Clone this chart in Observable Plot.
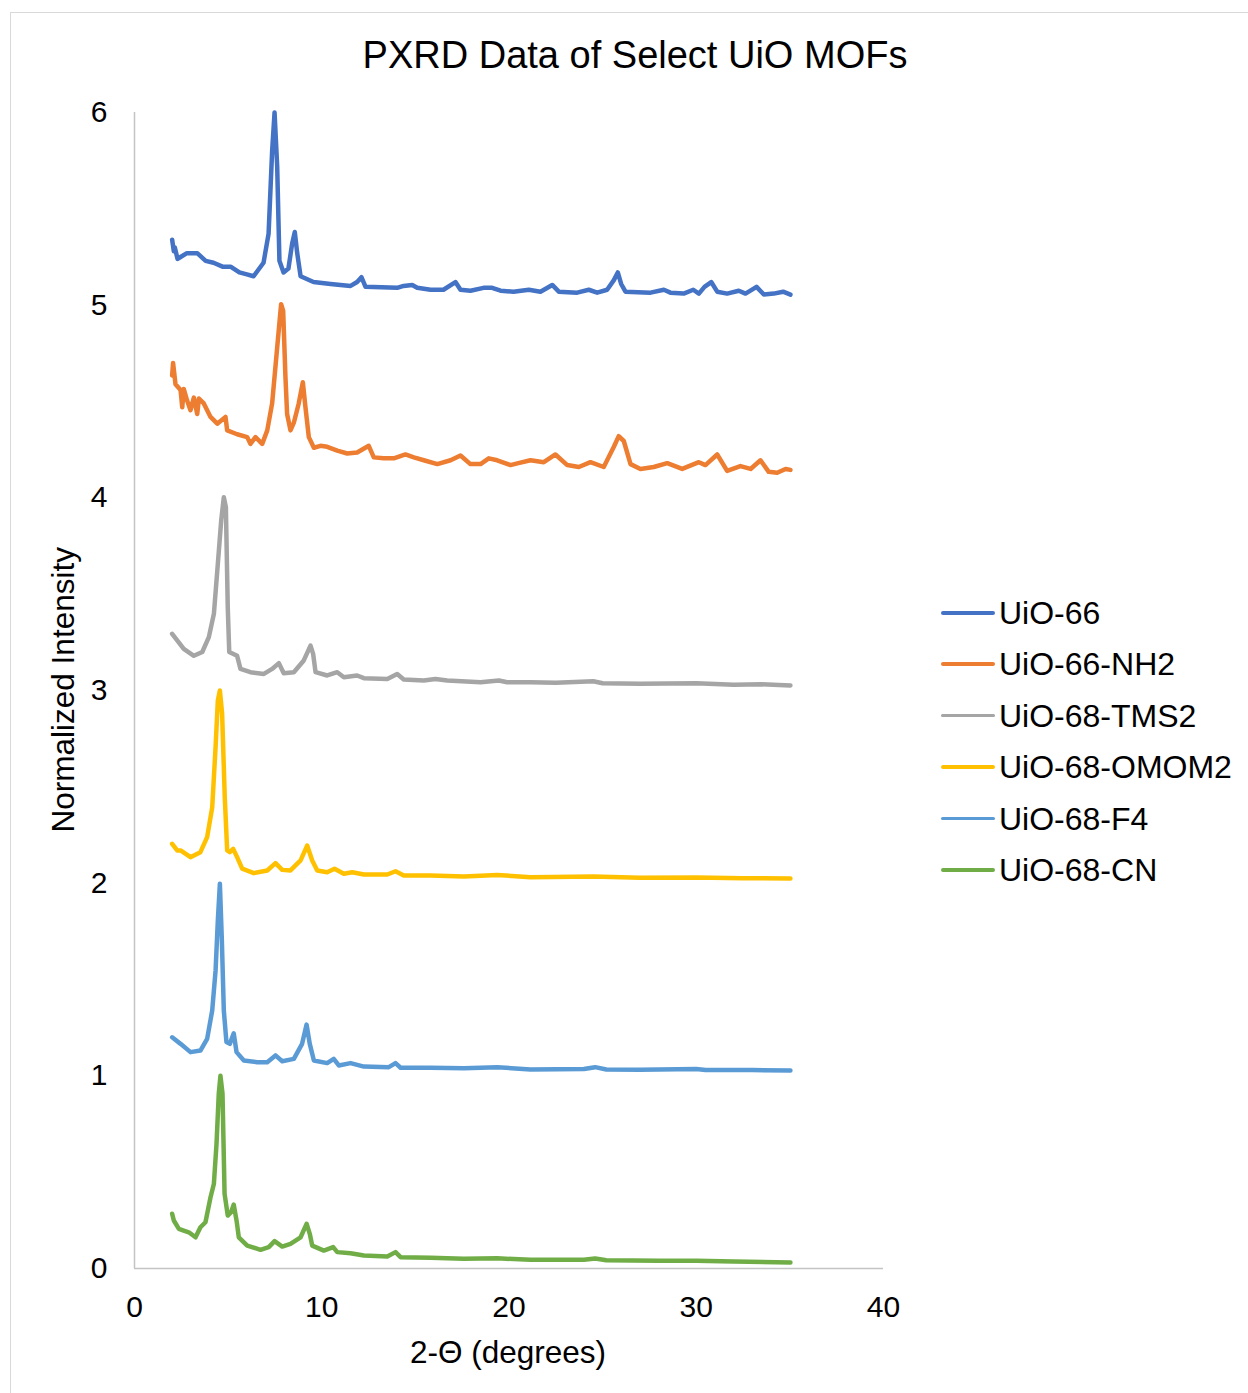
<!DOCTYPE html>
<html>
<head>
<meta charset="utf-8">
<script src="https://cdn.jsdelivr.net/npm/d3@7"></script>
<script src="https://cdn.jsdelivr.net/npm/@observablehq/plot@0.6"></script>
<style>
  html, body { margin: 0; padding: 0; background: #fff; overflow: hidden; }
  #wrap { position: relative; width: 1248px; height: 1393px; font-family: "Liberation Sans", Arial, sans-serif; color: #000; }
  #frame { position: absolute; left: 10px; top: 12px; width: 1400px; height: 1500px; border: 1.5px solid #d9d9d9; box-sizing: border-box; }
  #plot { position: absolute; left: 0; top: 0; }
  .txt { position: absolute; line-height: 1; white-space: nowrap; }
  #title { left: 335px; width: 600px; top: 36px; font-size: 38px; text-align: center; }
  #xlabel { left: 308px; width: 400px; top: 1337px; font-size: 31.5px; text-align: center; }
  #ylabel { left: -136px; width: 400px; top: 674px; font-size: 31.5px; text-align: center; transform: rotate(-90deg); transform-origin: 50% 50%; }
  .leg { position: absolute; left: 941px; height: 32px; }
  .leg .sw { position: absolute; left: 0; top: 14px; width: 54px; height: 3.5px; border-radius: 2px; }
  .leg .lt { position: absolute; left: 58px; top: 0px; font-size: 32px; line-height: 1; white-space: nowrap; }
</style>
</head>
<body>
<div id="wrap">
  <div id="frame"></div>
  <div id="plot"></div>
  <div id="title" class="txt">PXRD Data of Select UiO MOFs</div>
  <div id="xlabel" class="txt">2-Θ (degrees)</div>
  <div id="ylabel" class="txt">Normalized Intensity</div>
  <div id="legend"></div>
</div>
<script>
// ---- Series names and colours ----
const seriesNames = ["UiO-66", "UiO-66-NH2", "UiO-68-TMS2", "UiO-68-OMOM2", "UiO-68-F4", "UiO-68-CN"];
const seriesColors = ["#4472C4", "#ED7D31", "#A5A5A5", "#FFC000", "#5B9BD5", "#70AD47"];

// ---- Axis ticks ----
const xTicks = [0, 10, 20, 30, 40];
const yTicks = [0, 1, 2, 3, 4, 5, 6];

// ---- UiO-66 ----
const uio66X = [2.01,2.1,2.15,2.3,2.46,2.8,3.35,3.8,4.22,4.7,5.13,5.6,6.0,6.36,6.89,7.16,7.35,7.48,7.62,7.74,7.96,8.22,8.42,8.56,8.69,8.87,9.56,10.47,11.54,11.89,12.12,12.34,14.03,14.37,14.83,15.1,15.81,16.5,17.14,17.41,17.94,18.64,19.1,19.55,20.24,21.06,21.68,22.31,22.66,23.64,24.26,24.71,25.24,25.6,25.81,25.99,26.22,27.56,28.27,28.62,29.33,29.84,30.14,30.44,30.8,31.12,31.65,32.27,32.63,33.22,33.61,34.14,34.64,35.03];
const uio66Y = [5.34,5.28,5.3,5.24,5.25,5.27,5.27,5.23,5.22,5.2,5.2,5.17,5.16,5.15,5.22,5.37,5.8,6.0,5.72,5.23,5.17,5.19,5.32,5.38,5.27,5.15,5.12,5.11,5.10,5.12,5.145,5.095,5.09,5.1,5.105,5.09,5.08,5.08,5.12,5.08,5.075,5.09,5.09,5.075,5.07,5.08,5.07,5.105,5.07,5.065,5.08,5.065,5.08,5.13,5.17,5.11,5.07,5.065,5.08,5.065,5.06,5.08,5.06,5.095,5.12,5.07,5.06,5.075,5.06,5.095,5.055,5.06,5.07,5.055];

// ---- UiO-66-NH2 ----
const nh2X = [2.01,2.06,2.19,2.46,2.55,2.63,2.81,2.99,3.17,3.35,3.44,3.7,4.06,4.42,4.86,4.95,5.48,6.02,6.19,6.46,6.82,7.09,7.35,7.62,7.83,7.94,8.06,8.15,8.33,8.51,8.77,8.99,9.13,9.31,9.58,9.93,10.29,10.83,11.36,11.89,12.51,12.78,13.31,13.85,14.47,14.92,15.45,16.17,16.88,17.41,17.94,18.48,18.92,19.37,20.08,20.5,21.15,21.86,22.48,23.11,23.73,24.35,25.06,25.6,25.86,26.13,26.49,27.02,27.73,28.45,29.25,30.14,30.49,31.12,31.65,32.36,32.9,33.43,33.87,34.32,34.77,35.03];
const nh2Y = [4.635,4.70,4.59,4.56,4.47,4.565,4.505,4.455,4.52,4.435,4.515,4.49,4.42,4.385,4.42,4.35,4.33,4.315,4.28,4.315,4.28,4.35,4.49,4.78,5.005,4.97,4.63,4.435,4.35,4.39,4.49,4.60,4.47,4.315,4.26,4.27,4.265,4.245,4.23,4.235,4.27,4.21,4.205,4.205,4.225,4.21,4.195,4.175,4.195,4.22,4.175,4.175,4.205,4.195,4.17,4.18,4.195,4.185,4.225,4.17,4.16,4.185,4.16,4.265,4.32,4.295,4.175,4.15,4.16,4.18,4.15,4.185,4.17,4.225,4.14,4.165,4.15,4.195,4.135,4.13,4.15,4.145];

// ---- UiO-68-TMS2 ----
const tmsX = [2.01,2.28,2.63,3.17,3.62,3.97,4.24,4.45,4.63,4.77,4.88,4.98,5.06,5.48,5.66,6.19,6.91,7.35,7.71,7.97,8.51,9.04,9.4,9.54,9.67,10.29,10.83,11.18,11.89,12.25,13.5,14.03,14.38,15.45,16.07,16.7,18.48,19.46,19.9,21.15,22.5,24.5,25.0,27,28.5,30,32,33.5,35.03];
const tmsY = [3.294,3.26,3.216,3.18,3.2,3.277,3.398,3.657,3.882,4.003,3.951,3.432,3.2,3.18,3.112,3.095,3.086,3.112,3.142,3.09,3.095,3.156,3.233,3.19,3.095,3.078,3.095,3.069,3.078,3.064,3.06,3.086,3.057,3.052,3.06,3.052,3.043,3.052,3.043,3.043,3.04,3.048,3.038,3.035,3.036,3.038,3.03,3.032,3.026];

// ---- UiO-68-OMOM2 ----
const omomX = [2.01,2.28,2.46,2.99,3.52,3.88,4.15,4.33,4.45,4.56,4.68,4.82,4.95,5.09,5.27,5.48,5.75,6.37,7.09,7.53,7.89,8.33,8.87,9.22,9.49,9.76,10.29,10.68,11.18,11.63,12.25,13.5,13.94,14.38,15.81,17.59,19.37,21.15,24.5,27,30,32.5,35.03];
const omomY = [2.204,2.17,2.17,2.135,2.161,2.239,2.394,2.706,2.948,3.0,2.879,2.446,2.17,2.161,2.178,2.135,2.075,2.052,2.066,2.104,2.069,2.066,2.118,2.195,2.118,2.066,2.057,2.075,2.049,2.057,2.045,2.045,2.062,2.04,2.04,2.035,2.043,2.031,2.035,2.028,2.03,2.026,2.024];

// ---- UiO-68-F4 ----
const f4X = [2.01,2.46,2.99,3.52,3.88,4.15,4.33,4.45,4.56,4.66,4.77,4.91,5.09,5.3,5.45,5.84,6.55,7.09,7.53,7.89,8.51,8.95,9.19,9.36,9.58,10.29,10.64,10.91,11.54,12.25,13.58,13.94,14.21,15.81,17.59,19.37,21.15,24.0,24.6,25.2,27,30,30.5,33,35.03];
const f4Y = [1.2,1.166,1.123,1.131,1.192,1.339,1.547,1.806,1.997,1.72,1.339,1.175,1.166,1.221,1.123,1.08,1.071,1.071,1.106,1.076,1.088,1.166,1.266,1.166,1.08,1.066,1.088,1.054,1.066,1.048,1.045,1.066,1.042,1.042,1.04,1.045,1.033,1.035,1.045,1.033,1.032,1.036,1.03,1.03,1.028];

// ---- UiO-68-CN ----
const cnX = [2.01,2.1,2.37,2.63,2.9,3.26,3.52,3.79,4.06,4.24,4.38,4.5,4.59,4.7,4.81,4.98,5.16,5.3,5.45,5.57,6.02,6.73,7.17,7.48,7.89,8.33,8.87,9.19,9.36,9.49,10.11,10.61,10.83,11.54,12.25,13.5,13.94,14.21,15.81,17.59,19.37,21.15,24.0,24.6,25.2,28,30,32,35.03];
const cnY = [0.284,0.249,0.206,0.197,0.188,0.162,0.214,0.24,0.37,0.44,0.647,0.907,1.0,0.907,0.388,0.275,0.292,0.332,0.249,0.162,0.119,0.097,0.111,0.142,0.114,0.128,0.162,0.232,0.18,0.119,0.093,0.111,0.085,0.079,0.067,0.062,0.085,0.059,0.056,0.05,0.053,0.045,0.045,0.052,0.043,0.04,0.04,0.036,0.031];

// ---- Build table for Plot ----
const seriesXs = [uio66X, nh2X, tmsX, omomX, f4X, cnX];
const seriesYs = [uio66Y, nh2Y, tmsY, omomY, f4Y, cnY];
const rows = [];
seriesNames.forEach((name, i) => {
  seriesXs[i].forEach((xv, j) => rows.push({series: name, x: xv, y: seriesYs[i][j]}));
});

const FONT = '"Liberation Sans", Arial, sans-serif';

const chart = Plot.plot({
  width: 900,
  height: 1393,
  marginLeft: 134,
  marginRight: 17,
  marginTop: 112,
  marginBottom: 125,
  style: {fontFamily: FONT, background: "transparent", color: "#000", overflow: "visible"},
  x: {domain: [0, 40], label: null},
  y: {domain: [0, 6], label: null},
  color: {domain: seriesNames, range: seriesColors},
  marks: [
    Plot.ruleX([0], {stroke: "#c4c4c4", strokeWidth: 1.5}),
    Plot.ruleY([0], {stroke: "#c4c4c4", strokeWidth: 1.5}),
    Plot.axisX({ticks: xTicks, tickFormat: d3.format("d"), tickSize: 0, tickPadding: 27, fontSize: 30, label: null, fill: "#000"}),
    Plot.axisY({ticks: yTicks, tickFormat: d3.format("d"), tickSize: 0, tickPadding: 27, fontSize: 30, label: null, fill: "#000"}),
    Plot.line(rows, {x: "x", y: "y", z: "series", stroke: "series", strokeWidth: 4.5, strokeLinejoin: "round", strokeLinecap: "round"})
  ]
});
document.getElementById("plot").appendChild(chart);

// ---- Legend ----
const legend = document.getElementById("legend");
const legendTop = 597;
const legendStep = 51.4;
seriesNames.forEach((name, i) => {
  const row = document.createElement("div");
  row.className = "leg";
  row.style.top = (legendTop + i * legendStep) + "px";
  const sw = document.createElement("div");
  sw.className = "sw";
  sw.style.background = seriesColors[i];
  const lt = document.createElement("div");
  lt.className = "lt";
  lt.textContent = name;
  row.appendChild(sw);
  row.appendChild(lt);
  legend.appendChild(row);
});
</script>
</body>
</html>
